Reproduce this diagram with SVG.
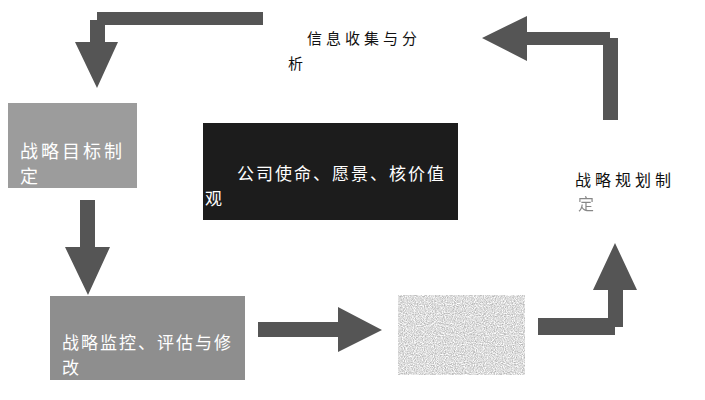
<svg xmlns="http://www.w3.org/2000/svg" width="705" height="400" viewBox="0 0 705 400">
<style>
.arrow{fill:#555;}
.t{font-family:"Noto Sans CJK SC","Noto Sans CJK JP",sans-serif;}
.w{fill:#fff;}
.k{fill:#111;}
</style>
<defs>
<filter id="speck" x="0" y="0" width="1" height="1">
<feTurbulence type="fractalNoise" baseFrequency="0.9" numOctaves="2" seed="3" result="n"/>
<feColorMatrix in="n" type="matrix" values="0 0 0 0 0.4  0 0 0 0 0.4  0 0 0 0 0.4  0 0 0 -1.5 1.15" result="s"/>
<feComposite in="s" in2="SourceGraphic" operator="in"/>
</filter>
</defs>
<rect width="705" height="400" fill="#fff"/>
<g id="connectors">
<path class="arrow" d="M263,12 L97,12 L97,20 L90,20 L90,42 L75,42 L97,88 L118,42 L105,42 L105,25 L263,25 Z"/>
<path class="arrow" d="M482,38 L527,16 L527,32 L610,32 L610,38 L618,38 L618,120 L603,120 L603,45 L527,45 L527,61 Z"/>
<path class="arrow" d="M80,200 L95,200 L95,247 L110,247 L88,295 L65,247 L80,247 Z"/>
<path class="arrow" d="M258,322 L338,322 L338,307 L382,330 L338,352 L338,337 L258,337 Z"/>
<path class="arrow" d="M538,318 L608,318 L608,290 L593,290 L615,243 L637,290 L623,290 L623,327 L615,327 L615,335 L538,335 Z"/>
</g>
<g id="node-info">
<text class="t k" x="307" y="44" font-size="15" letter-spacing="4">信息收集与分</text>
<text class="t k" x="288" y="69" font-size="15">析</text>
</g>
<g id="node-goal">
<rect x="8" y="103" width="129" height="85" fill="#9c9c9c"/>
<text class="t w" x="20" y="158" font-size="18" letter-spacing="3">战略目标制</text>
<text class="t w" x="20" y="183" font-size="18">定</text>
</g>
<g id="node-mission">
<rect x="203" y="123" width="255" height="97" fill="#1c1c1c"/>
<text class="t w" x="237" y="180" font-size="17" letter-spacing="2">公司使命、愿景、核价值</text>
<text class="t w" x="205" y="205" font-size="17">观</text>
</g>
<g id="node-plan">
<text class="t k" x="575" y="186" font-size="16" letter-spacing="4">战略规划制</text>
<text class="t k" x="578" y="210" font-size="16" opacity="0.5">定</text>
</g>
<g id="node-monitor">
<rect x="50" y="296" width="195" height="84" fill="#8e8e8e"/>
<text class="t w" x="62" y="349" font-size="17" letter-spacing="2">战略监控、评估与修</text>
<text class="t w" x="62" y="374" font-size="17">改</text>
</g>
<g id="node-blank">
<rect x="398" y="295" width="127" height="80" fill="#fff" filter="url(#speck)"/>
</g>
</svg>
